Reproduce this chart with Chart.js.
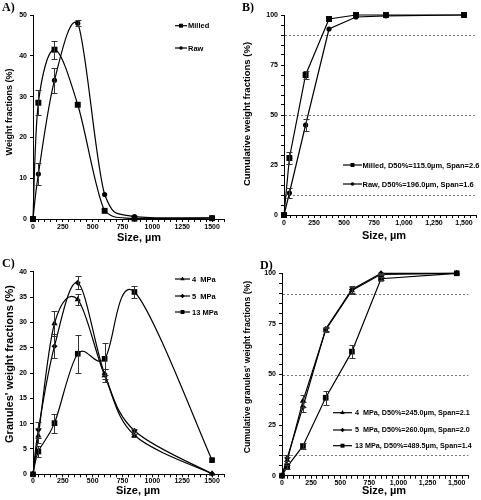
<!DOCTYPE html>
<html><head><meta charset="utf-8">
<script src="https://cdn.jsdelivr.net/npm/chart.js@4/dist/chart.umd.min.js"></script>
<style>
body{margin:0;background:#fff;width:481px;height:500px;position:relative;overflow:hidden;font-family:"Liberation Sans",Arial,sans-serif}
canvas{position:absolute}
.lbl{position:absolute;font-weight:bold;color:#000;white-space:nowrap;line-height:1}
.panel{font-family:"Liberation Serif","Times New Roman",serif;font-size:12px}
.rot{transform:translate(-50%,-50%) rotate(-90deg)}
.hx{transform:translate(-50%,-50%)}
</style></head><body>
<canvas id="cA" width="240" height="250" style="left:0;top:0"></canvas>
<canvas id="cB" width="241" height="250" style="left:240px;top:0"></canvas>
<canvas id="cC" width="240" height="250" style="left:0;top:250px"></canvas>
<canvas id="cD" width="241" height="250" style="left:240px;top:250px"></canvas>

<div class="lbl panel" style="left:2px;top:0.5px">A)</div>
<div class="lbl panel" style="left:242px;top:0.5px">B)</div>
<div class="lbl panel" style="left:2px;top:257px">C)</div>
<div class="lbl panel" style="left:260px;top:258.5px">D)</div>

<div class="lbl rot" style="left:9px;top:112px;font-size:9px">Weight fractions (%)</div>
<div class="lbl rot" style="left:247px;top:114px;font-size:9.5px">Cumulative weight fractions (%)</div>
<div class="lbl rot" style="left:9px;top:364px;font-size:11px">Granules' weight fractions (%)</div>
<div class="lbl rot" style="left:247px;top:367px;font-size:8.7px">Cumulative granules' weight fractions (%)</div>

<div class="lbl hx" style="left:139px;top:237px;font-size:11px">Size, µm</div>
<div class="lbl hx" style="left:384px;top:235px;font-size:11px">Size, µm</div>
<div class="lbl hx" style="left:138px;top:489.5px;font-size:11px">Size, µm</div>
<div class="lbl hx" style="left:384px;top:489.5px;font-size:11px">Size, µm</div>

<script>
// ---------- data ----------
const sizes = [0, 45, 180, 375, 600, 850, 1500];

const namesAB = ["Milled", "Raw"];
const legendB = ["Milled, D50%=115.0µm, Span=2.6", "Raw, D50%=196.0µm, Span=1.6"];
const namesCD = ["4  MPa", "5  MPa", "13 MPa"];
const legendD = ["4  MPa, D50%=245.0µm, Span=2.1", "5  MPa, D50%=260.0µm, Span=2.0", "13 MPa, D50%=489.5µm, Span=1.4"];

const milledFrac    = [0, 28.5, 41.5, 28.0, 2.0, 0.1, 0.2];
const milledFracErr = [0, 3.0, 2.2, 0, 0, 0, 0];
const rawFrac       = [0, 11.0, 34.0, 48.0, 6.0, 0.6, 0.3];
const rawFracErr    = [0, 2.7, 3.0, 0.7, 0, 0, 0];

const milledCum    = [0, 28.5, 70.0, 98.0, 100, 100, 100];
const milledCumErr = [0, 3.0, 2.0, 0, 0, 0, 0];
const rawCum       = [0, 11.0, 45.0, 93.0, 99.0, 99.6, 100];
const rawCumErr    = [0, 2.7, 3.0, 0, 0, 0, 0];

const mpa4Frac     = [0, 7.6, 29.8, 34.5, 19.5, 7.7, 0.1];
const mpa4FracErr  = [0, 1.5, 2.4, 1.1, 1.2, 0.3, 0];
const mpa5Frac     = [0, 8.8, 25.3, 37.8, 19.8, 8.6, 0.1];
const mpa5FracErr  = [0, 1.6, 2.4, 1.3, 1.0, 0.3, 0];
const mpa13Frac    = [0, 4.5, 10.1, 23.8, 22.8, 36.0, 2.8];
const mpa13FracErr = [0, 1.0, 1.9, 3.8, 3.2, 1.2, 0];

const mpa4Cum     = [0, 7.6, 37.0, 72.0, 91.5, 99.5, 100];
const mpa4CumErr  = [0, 1.5, 3.0, 1.2, 1.5, 0.4, 0];
const mpa5Cum     = [0, 8.8, 34.0, 72.5, 92.0, 100, 100];
const mpa5CumErr  = [0, 1.6, 2.5, 1.2, 1.5, 0.3, 0];
const mpa13Cum    = [0, 4.5, 14.7, 38.5, 61.3, 97.3, 100];
const mpa13CumErr = [0, 1.0, 1.5, 3.5, 3.3, 0.8, 0];

const refLevels = [10, 50, 90];

// ---------- helpers ----------
const FONT = '"Liberation Sans", Arial, sans-serif';
const pts = (ys) => sizes.map((x, i) => ({x, y: ys[i]}));

// Excel-style smoothed line: Catmull-Rom control points (1/6 of neighbour chord)
const excelSmooth = {
  id: 'excelSmooth',
  beforeDatasetDraw(chart, args) {
    const ds = chart.data.datasets[args.index];
    if (!ds.smooth) return;
    const meta = args.meta, line = meta.dataset, a = chart.chartArea;
    line.updateControlPoints(a, 'x');
    const p = meta.data, n = p.length;
    const cl = (v) => Math.min(Math.max(v, a.top), a.bottom);
    for (let i = 0; i < n; i++) {
      const pr = p[Math.max(i - 1, 0)], nx = p[Math.min(i + 1, n - 1)];
      const dx = (nx.x - pr.x) / 6, dy = (nx.y - pr.y) / 6;
      p[i].cp1x = p[i].x - dx; p[i].cp1y = cl(p[i].y - dy);
      p[i].cp2x = p[i].x + dx; p[i].cp2y = cl(p[i].y + dy);
    }
  }
};

const errorBars = {
  id: 'errorBars',
  afterDatasetsDraw(chart) {
    const ctx = chart.ctx, ys = chart.scales.y;
    chart.data.datasets.forEach((ds, i) => {
      if (!ds.errors) return;
      const meta = chart.getDatasetMeta(i);
      ctx.save();
      ctx.strokeStyle = '#333'; ctx.lineWidth = 1;
      meta.data.forEach((p, j) => {
        const e = ds.errors[j]; if (!e) return;
        const v = ds.data[j].y;
        const t = Math.round(ys.getPixelForValue(v + e)) + 0.5;
        const b = Math.round(ys.getPixelForValue(v - e)) + 0.5;
        const x = Math.round(p.x) + 0.5;
        ctx.beginPath();
        ctx.moveTo(x, t); ctx.lineTo(x, b);
        ctx.moveTo(x - 3, t); ctx.lineTo(x + 3, t);
        ctx.moveTo(x - 3, b); ctx.lineTo(x + 3, b);
        ctx.stroke();
      });
      ctx.restore();
    });
  }
};

const refLines = {
  id: 'refLines',
  beforeDatasetsDraw(chart, args, opts) {
    if (!opts || !opts.values) return;
    const ctx = chart.ctx, a = chart.chartArea, ys = chart.scales.y;
    ctx.save();
    ctx.strokeStyle = '#777'; ctx.lineWidth = 1; ctx.setLineDash([2, 2]);
    opts.values.forEach(v => {
      const y = Math.round(ys.getPixelForValue(v)) + 0.5;
      ctx.beginPath(); ctx.moveTo(a.left + 1, y); ctx.lineTo(a.right, y); ctx.stroke();
    });
    ctx.restore();
  }
};

const boxLegend = {
  id: 'boxLegend',
  afterDraw(chart, args, o) {
    if (!o || !o.rows) return;
    const ctx = chart.ctx;
    ctx.save();
    chart.data.datasets.forEach((ds, i) => {
      const y = o.rows[i];
      ctx.strokeStyle = '#000'; ctx.lineWidth = 1.2;
      ctx.beginPath(); ctx.moveTo(o.x, y); ctx.lineTo(o.x + o.len, y); ctx.stroke();
      ctx.fillStyle = '#000';
      Chart.helpers.drawPoint(ctx, {pointStyle: ds.pointStyle, radius: ds.legendRadius, rotation: 0, borderWidth: 0}, o.x + o.len / 2, y);
      ctx.fillStyle = '#000';
      ctx.font = 'bold ' + o.fontSize + 'px ' + FONT;
      ctx.textBaseline = 'middle'; ctx.textAlign = 'left';
      ctx.fillText(o.labels[i], o.x + o.len + o.gap, y + 0.5);
    });
    ctx.restore();
  }
};

function ds(label, ys, errs, style, r, lr, smooth) {
  return {
    label, data: pts(ys), errors: errs, smooth,
    borderColor: '#000', borderWidth: 1.2,
    pointStyle: style, pointRadius: r, pointHoverRadius: r,
    pointBackgroundColor: '#000', pointBorderColor: '#000', pointBorderWidth: 0,
    legendRadius: lr, tension: smooth ? 0.4 : 0, clip: false, fill: false
  };
}

function makeChart(id, datasets, cfg) {
  const xCb = cfg.comma
    ? (v) => (v % 250 === 0 && v <= 1500) ? v.toLocaleString('en-US') : ''
    : (v) => (v % 250 === 0 && v <= 1500) ? String(v) : '';
  return new Chart(document.getElementById(id), {
    type: 'line',
    data: {datasets},
    plugins: [refLines, excelSmooth, errorBars, boxLegend],
    options: {
      responsive: false, animation: false, events: [],
      layout: {padding: {left: 0, top: cfg.top, right: cfg.right, bottom: 0}},
      plugins: {
        legend: {display: false}, tooltip: {enabled: false},
        refLines: {values: cfg.refs},
        boxLegend: cfg.legend
      },
      scales: {
        x: {
          type: 'linear', min: 0, max: 1600,
          afterFit: (s) => { s.height = cfg.xH; },
          border: {display: true, color: '#000', width: 1},
          grid: {display: true, drawOnChartArea: false, drawTicks: true, tickLength: 3, color: '#000', lineWidth: 1},
          ticks: {stepSize: 50, autoSkip: false, maxRotation: 0, padding: cfg.xPad, color: '#000',
                  font: {family: FONT, size: 7, weight: 'bold'}, callback: xCb}
        },
        y: {
          type: 'linear', min: 0, max: cfg.yMax,
          afterFit: (s) => { s.width = cfg.yW; },
          border: {display: true, color: '#000', width: 1},
          grid: {display: true, drawOnChartArea: false, drawTicks: true, tickLength: 3, color: '#000', lineWidth: 1},
          ticks: {stepSize: cfg.yStep, autoSkip: false, padding: 3, color: '#000',
                  font: {family: FONT, size: 7, weight: 'bold'},
                  callback: (v) => (v % cfg.yLabelEvery === 0) ? String(v) : ''}
        }
      }
    }
  });
}

// ---------- A ----------
makeChart('cA', [
  ds(namesAB[0], milledFrac, milledFracErr, 'rect', 4.2, 2.8, true),
  ds(namesAB[1], rawFrac, rawFracErr, 'circle', 2.6, 1.8, true)
], {top: 15, right: 16, xH: 31, yW: 33, yMax: 50, yStep: 10, yLabelEvery: 10, refs: null, xPad: 1,
    legend: {x: 175, len: 12, gap: 1, rows: [25.7, 48], fontSize: 7.5, labels: namesAB}});

// ---------- B ----------
makeChart('cB', [
  ds(legendB[0], milledCum, milledCumErr, 'rect', 4.2, 2.8, false),
  ds(legendB[1], rawCum, rawCumErr, 'circle', 2.6, 1.8, false)
], {top: 15, right: 5, xH: 35, yW: 44, yMax: 100, yStep: 5, yLabelEvery: 25, refs: refLevels, comma: true, xPad: 1,
    legend: {x: 103, len: 19, gap: 0.5, rows: [165, 184], fontSize: 7.5, labels: legendB}});

// ---------- C ----------
makeChart('cC', [
  ds(namesCD[0], mpa4Frac, mpa4FracErr, 'triangle', 3.6, 2.6, true),
  ds(namesCD[1], mpa5Frac, mpa5FracErr, 'rectRot', 3.0, 2.2, true),
  ds(namesCD[2], mpa13Frac, mpa13FracErr, 'rect', 4.0, 2.8, true)
], {top: 21.7, right: 16, xH: 25.7, yW: 33, yMax: 40, yStep: 5, yLabelEvery: 5, refs: null, xPad: 0,
    legend: {x: 175, len: 15, gap: 2, rows: [29, 46, 62], fontSize: 7.5, labels: namesCD}});

// ---------- D ----------
makeChart('cD', [
  ds(legendD[0], mpa4Cum, mpa4CumErr, 'triangle', 3.6, 2.6, false),
  ds(legendD[1], mpa5Cum, mpa5CumErr, 'rectRot', 3.0, 2.2, false),
  ds(legendD[2], mpa13Cum, mpa13CumErr, 'rect', 4.0, 2.8, false)
], {top: 23.3, right: 12.6, xH: 24.3, yW: 42, yMax: 100, yStep: 5, yLabelEvery: 25, refs: refLevels, comma: true, xPad: 0,
    legend: {x: 93, len: 19, gap: 3, rows: [162.7, 180, 195.7], fontSize: 7.2, labels: legendD}});
</script>
</body></html>
